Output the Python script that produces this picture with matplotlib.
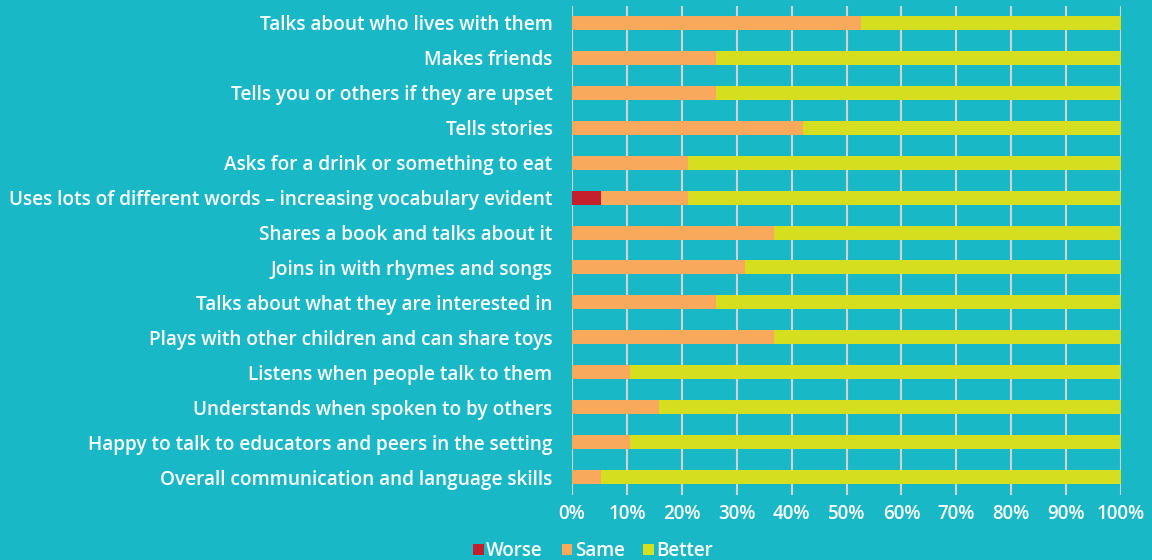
import matplotlib
matplotlib.use("Agg")
import matplotlib.pyplot as plt
import numpy as np

categories = [
    "Talks about who lives with them",
    "Makes friends",
    "Tells you or others if they are upset",
    "Tells stories",
    "Asks for a drink or something to eat",
    "Uses lots of different words \u2013 increasing vocabulary evident",
    "Shares a book and talks about it",
    "Joins in with rhymes and songs",
    "Talks about what they are interested in",
    "Plays with other children and can share toys",
    "Listens when people talk to them",
    "Understands when spoken to by others",
    "Happy to talk to educators and peers in the setting",
    "Overall communication and language skills",
]
worse = [0, 0, 0, 0, 0, 5.26, 0, 0, 0, 0, 0, 0, 0, 0]
same = [52.63, 26.32, 26.32, 42.11, 21.05, 15.79, 36.84, 31.58, 26.32, 36.84, 10.53, 15.79, 10.53, 5.26]
better = [47.37, 73.68, 73.68, 57.89, 78.95, 78.95, 63.16, 68.42, 73.68, 63.16, 89.47, 84.21, 89.47, 94.74]
series_names = ["Worse", "Same", "Better"]
x_ticks = list(range(0, 101, 10))

BG = "#19b8c7"
COLORS = ["#c41f2c", "#f9a95c", "#d5df1f"]
plt.rcParams["font.family"] = ["Open Sans", "DejaVu Sans"]

fig = plt.figure(figsize=(11.52, 5.6), dpi=100, facecolor=BG)
ax = fig.add_axes([572 / 1152, 1 - 494.5 / 560, 549 / 1152, 489 / 560])
ax.set_facecolor(BG)

y = np.arange(len(categories))
left = np.zeros(len(categories))
for name, vals, col in zip(series_names, [worse, same, better], COLORS):
    vals = np.array(vals)
    ax.barh(y, vals, left=left, height=0.4, color=col, label=name, zorder=3)
    left += vals

ax.set_ylim(len(categories) - 0.5, -0.5)
ax.set_xlim(0, 100)
ax.set_yticks(y)
ax.set_yticklabels(categories, color="white", fontsize=13.65, fontweight="semibold")
ax.set_xticks(x_ticks)
ax.set_xticklabels([f"{t}%" for t in x_ticks], color="white", fontsize=13.5,
                   fontweight="semibold")
ax.tick_params(axis="y", length=0, pad=14)
ax.tick_params(axis="x", length=0, pad=7)
ax.grid(axis="x", color="#d2d2d2", linewidth=1.5, zorder=0)
for s in ax.spines.values():
    s.set_visible(False)

leg = fig.legend(loc="lower center", bbox_to_anchor=(0.515, -0.032), ncol=3, frameon=False,
                 prop={"size": 13.5, "weight": "semibold"}, handlelength=0.55,
                 handleheight=0.55, handletextpad=0.15, columnspacing=1.0,
                 labelcolor="white")

fig.savefig("out.png", dpi=100, facecolor=BG)
